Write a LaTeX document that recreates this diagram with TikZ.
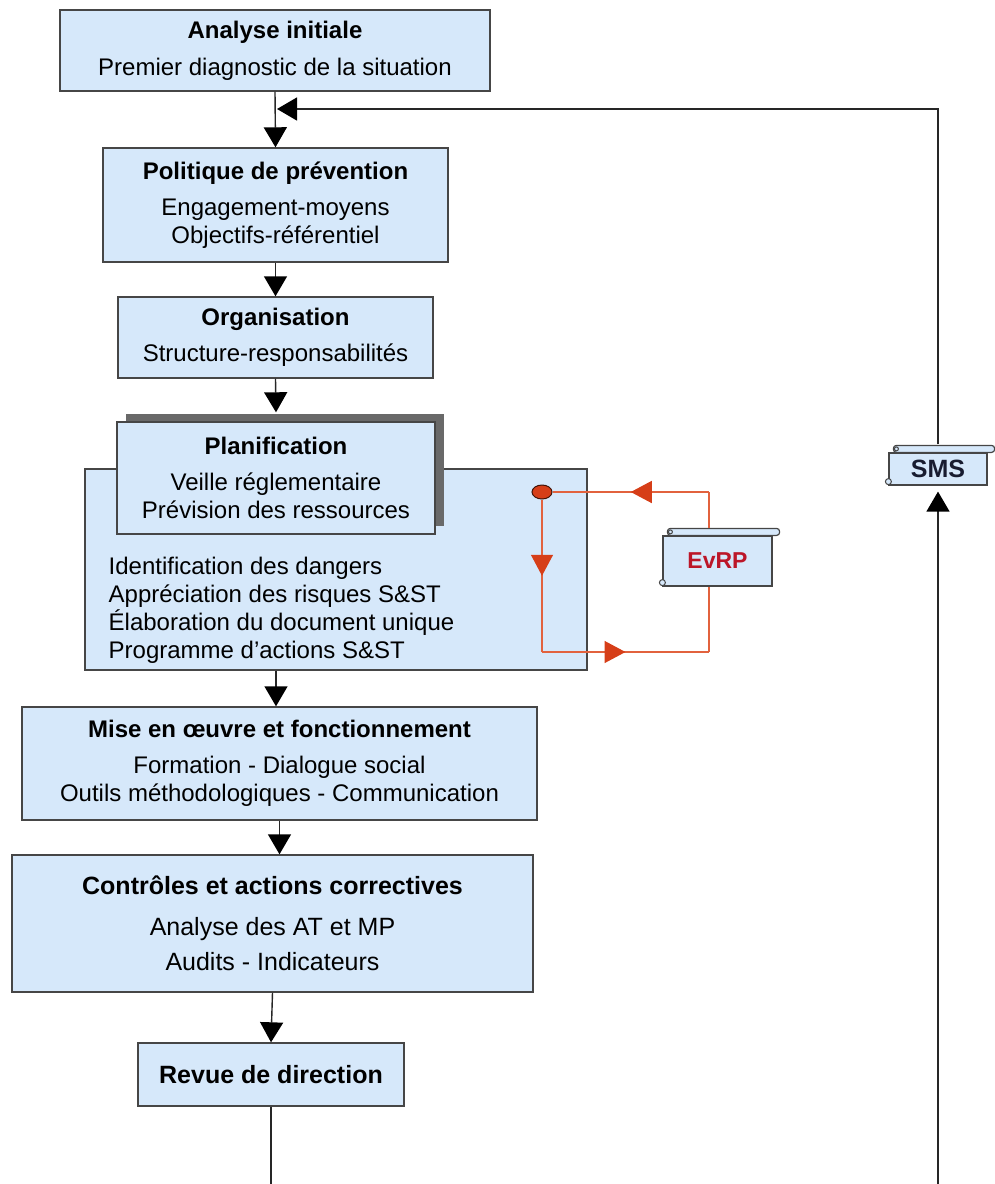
\documentclass[tikz,border=0pt]{standalone}
\usepackage{fontspec}
\setmainfont{Liberation Sans}
\usetikzlibrary{arrows.meta,shadows,shapes.geometric,decorations.markings}
\definecolor{boxblue}{RGB}{214,232,250}
\definecolor{boxline}{RGB}{70,70,70}
\definecolor{shadowgray}{RGB}{105,105,105}
\definecolor{loopred}{RGB}{226,98,62}
\definecolor{tipred}{RGB}{214,62,24}
\definecolor{evrpred}{RGB}{188,22,40}
\definecolor{smsnavy}{RGB}{24,28,48}
\newcommand{\scrollroll}[1]{%
	\filldraw[fill=boxblue, draw=boxline, line width=1.2pt, rounded corners=3pt] ([xshift=5pt]#1.north west) rectangle ([xshift=7pt,yshift=7pt]#1.north east);
	\draw[boxline, line width=1pt] ([xshift=8pt,yshift=3.5pt]#1.north west) circle (2pt);
	\filldraw[fill=boxblue, draw=boxline, line width=1pt] ([yshift=4pt]#1.south west) circle (3pt);
}
\begin{document}
\begin{tikzpicture}[x=1pt, y=-1pt,
	box/.style = {shape=rectangle, draw=boxline, line width=1.4pt, fill=boxblue, align=center, inner sep=0pt, font=\fontsize{24}{28}\selectfont},
	scrollbox/.style = {box, line width=1.2pt, font=\fontsize{23}{26}\selectfont\bfseries},
	arr/.style = {draw=black!85, line width=1.4pt, -{Triangle[width=23pt,length=20pt,color=black]}},
	redplain/.style = {draw=loopred, line width=1.4pt},
	redline/.style = {redplain, postaction={decorate}, decoration={markings, mark=at position 0.5 with {\arrow{Triangle[width=22pt,length=21pt,color=tipred]}}}}]
	\useasboundingbox (0,0) rectangle (994,1184);
	\node[box, minimum width=430pt, minimum height=81pt] (ana) at (275,50.5) {\textbf{Analyse initiale}\\[9pt]Premier diagnostic de la situation};
	\node[box, minimum width=345pt, minimum height=114pt] (pol) at (275.5,205) {\textbf{Politique de prévention}\\[8pt]Engagement-moyens\\Objectifs-référentiel};
	\node[box, minimum width=315pt, minimum height=81pt] (org) at (275.5,337.5) {\textbf{Organisation}\\[8pt]Structure-responsabilités};
	\node[box, minimum width=502pt, minimum height=201pt] (planbig) at (336,569.5) {};
	\node[box, draw=none, fill=none, anchor=west, align=left] (plist) at (108,610) {Identification des dangers\\Appréciation des risques S\&ST\\Élaboration du document unique\\Programme d’actions S\&ST};
	\node[box, minimum width=318pt, minimum height=112pt, drop shadow={shadow xshift=9pt, shadow yshift=8pt, fill=shadowgray, opacity=1}] (plan) at (276,478) {\textbf{Planification}\\[8pt]Veille réglementaire\\Prévision des ressources};
	\node[box, minimum width=515pt, minimum height=113pt] (mise) at (279.5,763.5) {\textbf{Mise en œuvre et fonctionnement}\\[8pt]Formation - Dialogue social\\Outils méthodologiques - Communication};
	\node[box, minimum width=521pt, minimum height=137pt, font=\fontsize{25}{35}\selectfont] (ctrl) at (272.5,923.5) {\textbf{Contrôles et actions correctives}\\[6pt]Analyse des AT et MP\\Audits - Indicateurs};
	\node[box, minimum width=266pt, minimum height=63pt, font=\fontsize{25}{30}\selectfont\bfseries] (rev) at (271,1074.5) {Revue de direction};
	\node[scrollbox, minimum width=109pt, minimum height=50pt, text=evrpred] (evrp) at (717.5,561) {EvRP};
	\node[scrollbox, minimum width=98pt, minimum height=32pt, text=smsnavy, font=\fontsize{25}{26}\selectfont\bfseries] (sms) at (938,469) {SMS};
	\scrollroll{evrp}
	\scrollroll{sms}
	\node[ellipse, draw=black!70!tipred, line width=1pt, fill=tipred, minimum width=20pt, minimum height=14pt, inner sep=0pt] (dot) at (542,492) {};
	\coordinate (fbtip) at (277,109);
	\coordinate (smstop) at ([yshift=8pt]sms.north);
	\coordinate (bl) at (271,1188);
	\coordinate (lb) at (542,652);
	\coordinate (rb) at (709,652);
	\coordinate (rt) at (709,492);
	\coordinate (etop) at ([yshift=7pt]evrp.north);
	\draw[arr] (ana.south) -- (pol.north);
	\draw[arr] (pol.south) -- (org.north);
	\draw[arr] (org.south) -- ([yshift=9pt]plan.north);
	\draw[arr] (planbig.south -| plan.south) -- (mise.north -| plan.south);
	\draw[arr] (mise.south) -- (ctrl.north -| mise.south);
	\draw[arr] (ctrl.south) -- (rev.north);
	\draw[arr] (smstop) |- (fbtip);
	\draw[arr, shorten >=6pt] (rev.south) -- (bl) -| (sms.south);
	\draw[redline] (dot) -- (lb);
	\draw[redline] (lb) -- (rb);
	\draw[redplain] (rb) -- (rb |- evrp.south);
	\draw[redplain] (etop -| rt) -- (rt);
	\draw[redline] (rt) -- (dot);
\end{tikzpicture}
\end{document}
